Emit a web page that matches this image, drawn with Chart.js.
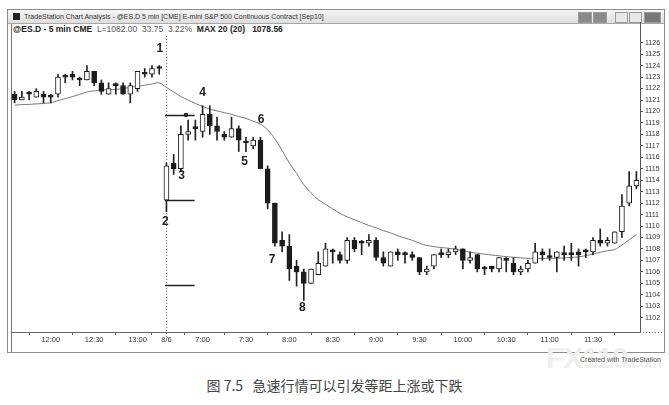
<!DOCTYPE html>
<html>
<head>
<meta charset="utf-8">
<script src="https://cdn.jsdelivr.net/npm/chart.js@4.4.1/dist/chart.umd.min.js"></script>
<style>
  body { margin: 0; background: #fff; font-family: "Liberation Sans", Arial, sans-serif; }
  #page { position: relative; width: 669px; height: 405px; overflow: hidden; }
  #frame { position: absolute; left: 7px; top: 9px; width: 656px; height: 342px; border: 1px solid #8c8c8c; }
  #titlebar { position: absolute; left: 0; top: 0; width: 656px; height: 13px; background: linear-gradient(#f6f6f6, #dedede); border-bottom: 1px solid #a8a8a8; }
  #titlebar .icon { position: absolute; left: 5px; top: 3px; width: 7px; height: 7px; background: #222; }
  #titlebar .txt { position: absolute; left: 16px; top: 3px; font-size: 7px; color: #333; white-space: nowrap; }
  .btn { position: absolute; top: 2px; height: 9px; border: 1px solid #9a9a9a; background: #e8e8e8; }
  #inner { position: absolute; left: 3px; top: 14px; width: 0; height: 328px; border-left: 1px solid #777; }
  #sub { position: absolute; left: 13px; top: 24px; font-size: 8.5px; color: #222; white-space: nowrap; }
  #sub b { font-weight: bold; }
  #sub span { color: #555; }
  #mark { position: absolute; left: 546px; top: 341px; font-size: 30px; font-weight: bold; color: #efefef; letter-spacing: -1px; }
  #mark small { font-size: 16px; }
  #credit { position: absolute; right: 8px; top: 356px; font-size: 7px; color: #555; }
  #caption { position: absolute; left: 0; width: 669px; top: 375px; text-align: center; font-family: "Noto Sans CJK SC", sans-serif; font-size: 14px; color: #444; white-space: pre; }
  #c { position: absolute; left: 0; top: 0; z-index: 2; }
</style>
</head>
<body>
<div id="page">
  <div id="frame">
    <div id="titlebar">
      <div class="icon"></div>
      <div class="txt">TradeStation Chart Analysis - @ES.D 5 min [CME] E-mini S&amp;P 500 Continuous Contract [Sep10]</div>
      <div class="btn" style="left:570px;width:12px;background:#8a8a8a"></div>
      <div class="btn" style="left:585px;width:12px;background:#8a8a8a"></div>
      <div class="btn" style="left:607px;width:11px"></div>
      <div class="btn" style="left:621px;width:11px"></div>
      <div class="btn" style="left:636px;width:15px;background:#777"></div>
    </div>
    <div id="inner"></div>
  </div>
  <div id="sub"><b>@ES.D - 5 min CME</b>&nbsp; <span>L=1082.00&nbsp; 33.75&nbsp; 3.22%</span>&nbsp; <b>MAX 20 (20)&nbsp;&nbsp; 1078.56</b></div>
  <div id="mark">FX110<small>.com</small></div>
  <div id="credit">Created with TradeStation</div>
  <div id="caption">图 7.5   急速行情可以引发等距上涨或下跌</div>
  <canvas id="c" width="669" height="405"></canvas>
</div>
<script>
// bar times: 8/5 afternoon, then 8/6 morning session
const times = [
  '11:35','11:40','11:45','11:50','11:55','12:00','12:05','12:10','12:15','12:20','12:25',
  '12:30','12:35','12:40','12:45','12:50','12:55','13:00','13:05','13:10','13:15',
  '6:35','6:40','6:45','6:50','6:55','7:00','7:05','7:10','7:15','7:20','7:25',
  '7:30','7:35','7:40','7:45','7:50','7:55','8:00','8:05','8:10','8:15','8:20','8:25',
  '8:30','8:35','8:40','8:45','8:50','8:55','9:00','9:05','9:10','9:15','9:20','9:25',
  '9:30','9:35','9:40','9:45','9:50','9:55','10:00','10:05','10:10','10:15','10:20','10:25',
  '10:30','10:35','10:40','10:45','10:50','10:55','11:00','11:05','11:10','11:15','11:20','11:25',
  '11:30','11:35','11:40','11:45','11:50','11:55','12:00'
];

const open = [
  1121.5, 1121.0, 1121.5, 1121.25, 1121.5, 1121.25, 1121.5, 1123.0, 1123.25, 1122.75, 1122.75,
  1123.5, 1122.5, 1121.5, 1122.25, 1122.25, 1121.5, 1122.0, 1123.25, 1123.25, 1123.75,
  1112.25, 1115.5, 1115.0, 1118.0, 1118.5, 1118.25, 1119.75, 1118.75, 1118.0, 1117.75, 1118.5,
  1117.25, 1117.0, 1117.5, 1115.0, 1112.0, 1108.75, 1108.25, 1106.5, 1106.0, 1105.0, 1105.75,
  1106.5, 1107.75, 1107.5, 1107.0, 1108.75, 1108.5, 1108.5, 1108.75, 1107.25, 1106.5, 1107.75,
  1107.5, 1107.5, 1107.25, 1106.0, 1106.5, 1107.5, 1107.5, 1107.75, 1108.0, 1107.0, 1107.5,
  1106.25, 1106.5, 1106.25, 1107.0, 1106.75, 1106.0, 1106.25, 1106.75, 1107.75, 1107.25, 1107.25,
  1107.5, 1107.5, 1107.75, 1107.75, 1107.75, 1108.75, 1108.5, 1108.5, 1109.5, 1112.0, 1113.5
];
const high = [
  1121.75, 1121.75, 1121.75, 1122.0, 1121.75, 1121.5, 1123.25, 1123.25, 1123.5, 1123.0, 1124.0,
  1123.5, 1122.75, 1122.5, 1122.5, 1122.5, 1122.5, 1123.5, 1123.75, 1124.0, 1124.0,
  1115.5, 1116.25, 1118.75, 1119.25, 1119.25, 1120.5, 1120.5, 1119.5, 1118.25, 1119.5, 1118.75,
  1117.75, 1117.75, 1117.75, 1115.25, 1112.0, 1109.5, 1109.25, 1107.0, 1106.25, 1106.25, 1107.75,
  1108.5, 1108.0, 1107.75, 1109.0, 1109.0, 1108.75, 1109.25, 1109.0, 1107.75, 1107.75, 1108.0,
  1107.75, 1107.75, 1107.25, 1106.5, 1107.5, 1108.0, 1108.0, 1108.25, 1108.0, 1107.75, 1107.5,
  1106.5, 1106.5, 1107.25, 1107.25, 1107.25, 1106.5, 1107.0, 1108.5, 1108.0, 1108.0, 1107.75,
  1108.25, 1108.5, 1108.0, 1108.0, 1109.0, 1109.75, 1109.0, 1109.5, 1112.75, 1114.75, 1114.75
];
const low = [
  1120.75, 1121.0, 1121.0, 1121.25, 1120.75, 1120.75, 1121.25, 1122.5, 1122.75, 1122.25, 1122.75,
  1122.25, 1121.5, 1121.5, 1121.5, 1121.5, 1120.75, 1121.75, 1123.0, 1123.0, 1123.25,
  1111.25, 1114.5, 1114.75, 1117.5, 1117.5, 1117.75, 1118.0, 1117.5, 1117.5, 1117.75, 1116.5,
  1116.5, 1116.75, 1115.0, 1111.5, 1108.25, 1107.75, 1105.25, 1104.75, 1103.5, 1105.0, 1105.75,
  1106.5, 1106.75, 1106.75, 1106.75, 1107.75, 1107.5, 1108.25, 1107.0, 1106.5, 1106.5, 1107.0,
  1106.75, 1107.0, 1105.75, 1105.75, 1106.25, 1107.25, 1107.25, 1107.5, 1106.25, 1106.75, 1106.0,
  1105.75, 1106.0, 1106.0, 1106.0, 1105.75, 1105.75, 1106.0, 1106.75, 1107.0, 1107.0, 1106.0,
  1107.0, 1107.0, 1106.5, 1107.25, 1107.5, 1108.25, 1108.25, 1108.5, 1109.0, 1111.75, 1113.25
];
const close = [
  1121.0, 1121.25, 1121.5, 1121.75, 1121.25, 1121.25, 1123.0, 1123.0, 1123.0, 1122.75, 1123.5,
  1122.5, 1121.75, 1122.0, 1122.25, 1121.5, 1122.25, 1123.5, 1123.25, 1123.75, 1123.75,
  1115.25, 1115.0, 1118.0, 1118.25, 1118.5, 1119.75, 1118.75, 1118.25, 1117.75, 1118.5, 1117.5,
  1117.25, 1117.5, 1115.0, 1112.0, 1108.5, 1108.25, 1106.25, 1106.0, 1105.0, 1106.25, 1106.75,
  1108.0, 1107.75, 1107.0, 1108.75, 1108.0, 1108.5, 1108.75, 1107.25, 1106.75, 1107.75, 1107.5,
  1107.5, 1107.25, 1106.0, 1106.25, 1107.5, 1107.5, 1107.75, 1108.0, 1107.0, 1107.25, 1106.25,
  1106.25, 1106.25, 1107.25, 1107.0, 1106.0, 1106.25, 1106.75, 1107.75, 1107.5, 1107.25, 1107.75,
  1107.5, 1107.5, 1107.5, 1107.75, 1108.75, 1108.5, 1108.75, 1109.5, 1111.75, 1113.5, 1114.0
];

// 20-bar average
const ma20 = [
  1120.55, 1120.6, 1120.62, 1120.66, 1120.7, 1120.76, 1120.95, 1121.12, 1121.3, 1121.5, 1121.7,
  1121.8, 1121.87, 1121.9, 1121.93, 1122.0, 1122.1, 1122.2, 1122.3, 1122.4, 1122.5,
  1122.1, 1121.7, 1121.3, 1121.0, 1120.7, 1120.45, 1120.2, 1120.05, 1119.9, 1119.75, 1119.55,
  1119.4, 1119.15, 1118.9, 1118.4, 1117.6, 1116.6, 1115.5, 1114.6, 1113.6, 1112.9, 1112.3,
  1111.9, 1111.5, 1111.1, 1110.8, 1110.55, 1110.3, 1110.05, 1109.85, 1109.6, 1109.4, 1109.15,
  1108.95, 1108.75, 1108.5, 1108.3, 1108.2, 1108.12, 1108.06, 1107.98, 1107.85, 1107.72, 1107.62,
  1107.55, 1107.47, 1107.4, 1107.33, 1107.27, 1107.22, 1107.18, 1107.17, 1107.17, 1107.18, 1107.19,
  1107.22, 1107.26, 1107.3, 1107.42, 1107.55, 1107.7, 1107.85, 1107.95, 1108.35, 1108.8, 1109.25
];

const xTickBars = [5, 11, 17, 21, 26, 32, 38, 44, 50, 56, 62, 68, 74, 80];
const xTickLabels = ['12:00', '12:30', '13:00', '8/6', '7:00', '7:30', '8:00', '8:30', '9:00', '9:30', '10:00', '10:30', '11:00', '11:30'];
const priceTicks = [1102, 1103, 1104, 1105, 1106, 1107, 1108, 1109, 1110, 1111, 1112, 1113, 1114,
  1115, 1116, 1117, 1118, 1119, 1120, 1121, 1122, 1123, 1124, 1125, 1126];

const dayStart = 21;          // first bar of 8/6
const breakTop = 1126.6;      // where the dotted session line starts

// numbered marks: text, bar position, price position
const markText = ['1', '2', '3', '4', '5', '6', '7', '8'];
const markBar = [20.1, 20.85, 23.1, 26, 31.8, 34.1, 35.6, 39.8];
const markPrice = [1125.5, 1110.35, 1114.4, 1121.6, 1115.6, 1119.25, 1107.1, 1102.9];

// measured move lines drawn from the open of bar 2
const mmPrices = [1119.7, 1112.25, 1104.85];
const mmFrom = 20.8, mmTo = 24.9;
const mmDotBar = 23.7, mmDotPrice = 1119.7;

const bodies = open.map((o, i) => [Math.min(o, close[i]), Math.max(o, close[i])]);
const wicks = low.map((l, i) => [l, high[i]]);
const bodyFill = open.map((o, i) => close[i] > o ? '#ffffff' : '#1c1c1c');

const marksPlugin = {
  id: 'marks',
  beforeDatasetsDraw(chart) {
    const { ctx, chartArea, scales: { x, y } } = chart;
    const sx = Math.round(x.getPixelForValue(dayStart)) + 0.5;
    ctx.save();
    ctx.strokeStyle = '#666';
    ctx.lineWidth = 1;
    ctx.setLineDash([1, 2]);
    ctx.beginPath();
    ctx.moveTo(sx, y.getPixelForValue(breakTop));
    ctx.lineTo(sx, chartArea.bottom + 6);
    ctx.stroke();
    // axis dotted line runs on under the price scale
    ctx.beginPath();
    ctx.moveTo(chartArea.right, chartArea.bottom + 0.5);
    ctx.lineTo(664, chartArea.bottom + 0.5);
    ctx.stroke();
    ctx.restore();
  },
  afterDatasetsDraw(chart) {
    const { ctx, scales: { x, y } } = chart;
    ctx.save();
    ctx.strokeStyle = '#222';
    ctx.lineWidth = 1.5;
    mmPrices.forEach(p => {
      const py = Math.round(y.getPixelForValue(p)) + 0.5;
      ctx.beginPath();
      ctx.moveTo(x.getPixelForValue(mmFrom), py);
      ctx.lineTo(x.getPixelForValue(mmTo), py);
      ctx.stroke();
    });
    ctx.fillStyle = '#222';
    ctx.beginPath();
    ctx.arc(x.getPixelForValue(mmDotBar), y.getPixelForValue(mmDotPrice), 2.2, 0, Math.PI * 2);
    ctx.fill();

    ctx.font = 'bold 12px "Liberation Sans", Arial, sans-serif';
    ctx.textAlign = 'center';
    ctx.textBaseline = 'middle';
    markText.forEach((t, i) => {
      ctx.fillText(t, x.getPixelForValue(markBar[i]), y.getPixelForValue(markPrice[i]));
    });
    ctx.restore();
  }
};

new Chart(document.getElementById('c'), {
  type: 'bar',
  data: {
    labels: times,
    datasets: [
      {
        label: 'body',
        data: bodies,
        backgroundColor: bodyFill,
        borderColor: '#1c1c1c',
        borderWidth: 1,
        borderSkipped: false,
        barThickness: 5,
        minBarLength: 2,
        grouped: false
      },
      {
        label: 'wick',
        data: wicks,
        backgroundColor: '#222',
        borderWidth: 0,
        barThickness: 1,
        minBarLength: 1,
        grouped: false
      },
      {
        type: 'line',
        label: 'MAX 20',
        data: ma20,
        borderColor: '#777',
        borderWidth: 1,
        pointRadius: 0,
        tension: 0.3,
        fill: false
      }
    ]
  },
  options: {
    responsive: false,
    animation: false,
    devicePixelRatio: 1,
    layout: { padding: { left: 11, right: 5, top: 22, bottom: 54 } },
    plugins: { legend: { display: false }, tooltip: { enabled: false } },
    scales: {
      x: {
        type: 'category',
        offset: true,
        afterBuildTicks: scale => {
          scale.ticks = xTickBars.map(v => ({ value: v }));
        },
        afterFit: scale => { scale.height = 19; },
        grid: { drawOnChartArea: false, drawTicks: true, tickLength: 3, color: '#666' },
        border: { display: true, color: '#666', dash: [1, 2] },
        ticks: {
          autoSkip: false,
          maxRotation: 0,
          padding: 0,
          color: '#333',
          font: { family: '"Liberation Sans", Arial, sans-serif', size: 7.5 },
          callback: function (value) {
            return xTickLabels[xTickBars.indexOf(value)];
          }
        }
      },
      y: {
        position: 'right',
        min: 1100.75,
        max: 1127.81,
        afterBuildTicks: scale => {
          scale.ticks = priceTicks.map(v => ({ value: v }));
        },
        afterFit: scale => { scale.width = 24; },
        grid: { drawOnChartArea: false, drawTicks: true, tickLength: 3, color: '#555' },
        border: { display: true, color: '#555' },
        ticks: {
          padding: 2,
          color: '#333',
          font: { family: '"Liberation Sans", Arial, sans-serif', size: 7 },
          callback: v => String(v)
        }
      }
    }
  },
  plugins: [marksPlugin]
});
</script>
</body>
</html>
